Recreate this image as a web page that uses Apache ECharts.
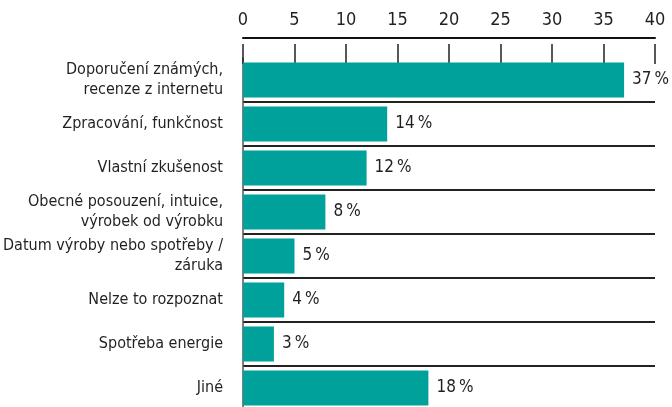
<!DOCTYPE html>
<html>
<head>
<meta charset="utf-8">
<script src="https://cdn.jsdelivr.net/npm/echarts@6/dist/echarts.min.js"></script>
<style>
  html, body { margin: 0; padding: 0; background: #fff; }
  #chart { width: 672px; height: 407px; }
</style>
</head>
<body>
<div id="chart"></div>
<script>
// kategorie shora dolů
const categories = [
  'Doporučení známých,\nrecenze z internetu',
  'Zpracování, funkčnost',
  'Vlastní zkušenost',
  'Obecné posouzení, intuice,\nvýrobek od výrobku',
  'Datum výroby nebo spotřeby /\nzáruka',
  'Nelze to rozpoznat',
  'Spotřeba energie',
  'Jiné'
];
const values = [37, 14, 12, 8, 5, 4, 3, 18];
const axisMin = 0;
const axisMax = 40;
const axisStep = 5;

const font = '"Liberation Sans Narrow", "DejaVu Sans Condensed", sans-serif';
const textColor = '#231f20';

const chart = echarts.init(document.getElementById('chart'));

const option = {
  animation: false,
  grid: { left: 243, right: 17, top: 58, height: 352, outerBoundsMode: 'none', containLabel: false },
  xAxis: [
    {
      // osa s čarou a popisky
      type: 'value', position: 'top', offset: 20,
      min: axisMin, max: axisMax, interval: axisStep,
      axisLine: { show: true, lineStyle: { color: '#111', width: 2 } },
      axisTick: { show: false },
      splitLine: { show: false },
      axisLabel: { margin: 9, fontSize: 18, fontFamily: font, color: textColor }
    },
    {
      // krátké značky pod osou
      type: 'value', position: 'top', offset: 14,
      min: axisMin, max: axisMax, interval: axisStep,
      axisLine: { show: false },
      axisTick: { show: true, inside: true, length: 20, lineStyle: { color: '#222', width: 1.5 } },
      splitLine: { show: false },
      axisLabel: { show: false }
    }
  ],
  yAxis: {
    type: 'category', inverse: true, data: categories,
    axisLine: { show: true, lineStyle: { color: '#555', width: 1.5 } },
    axisTick: { show: false },
    splitLine: {
      show: true,
      lineStyle: {
        color: ['rgba(0,0,0,0)', '#222', '#222', '#222', '#222', '#222', '#222', '#222', '#222'],
        width: 2
      }
    },
    axisLabel: {
      margin: 20, fontSize: 16, lineHeight: 20, fontFamily: font, color: textColor, align: 'right'
    }
  },
  series: [{
    type: 'bar',
    xAxisIndex: 0,
    data: values,
    barWidth: 35,
    itemStyle: { color: '#00a19a' },
    label: {
      show: true, position: 'right', distance: 8,
      formatter: p => p.value + '\u2009%',
      fontSize: 17, fontFamily: font, color: textColor
    }
  }]
};

chart.setOption(option);
</script>
</body>
</html>
